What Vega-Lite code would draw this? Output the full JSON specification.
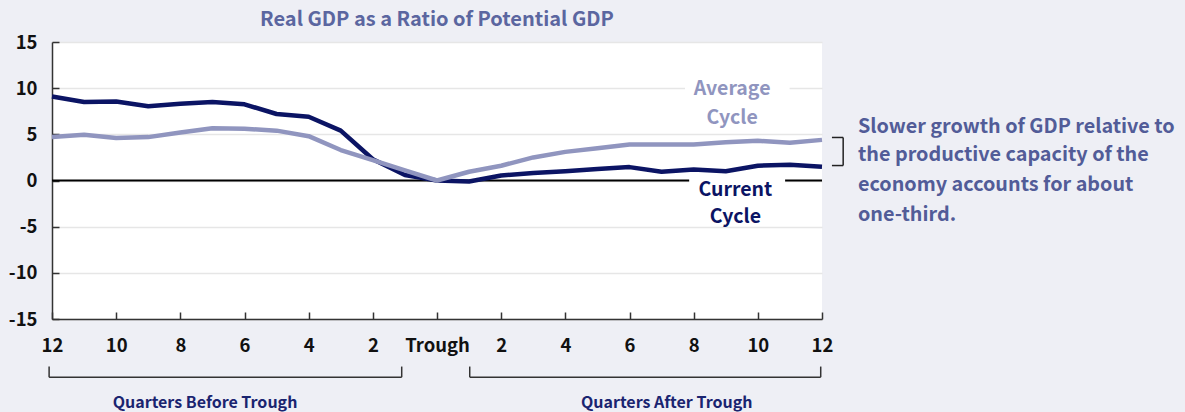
{
  "$schema": "https://vega.github.io/schema/vega-lite/v6.json",
  "autosize": "none",
  "width": 770,
  "height": 277,
  "padding": {"left": 52, "top": 42, "right": 363, "bottom": 93},
  "background": "#eeeff5",
  "config": {
    "view": {"fill": "white", "stroke": null},
    "font": "Noto Sans CJK KR",
    "axis": {
      "labelFont": "Noto Sans CJK KR",
      "labelFontSize": 18.5,
      "labelFontWeight": "bold",
      "labelColor": "#111111",
      "domainColor": "#333333",
      "domainWidth": 1.5,
      "tickColor": "#333333",
      "tickWidth": 1.5,
      "title": null
    }
  },
  "title": {
    "text": "Real GDP as a Ratio of Potential GDP",
    "font": "Noto Sans CJK KR",
    "fontSize": 20,
    "fontWeight": "bold",
    "color": "#5b66a0",
    "anchor": "middle",
    "offset": 3
  },
  "datasets": {
    "gdp": [
      {"q": -12, "series": "Current", "v": 9.1},
      {"q": -11, "series": "Current", "v": 8.5},
      {"q": -10, "series": "Current", "v": 8.55},
      {"q": -9, "series": "Current", "v": 8.05},
      {"q": -8, "series": "Current", "v": 8.3},
      {"q": -7, "series": "Current", "v": 8.5},
      {"q": -6, "series": "Current", "v": 8.25},
      {"q": -5, "series": "Current", "v": 7.2},
      {"q": -4, "series": "Current", "v": 6.9},
      {"q": -3, "series": "Current", "v": 5.4},
      {"q": -2, "series": "Current", "v": 2.3},
      {"q": -1, "series": "Current", "v": 0.6},
      {"q": 0, "series": "Current", "v": 0.0},
      {"q": 1, "series": "Current", "v": -0.1},
      {"q": 2, "series": "Current", "v": 0.55},
      {"q": 3, "series": "Current", "v": 0.8},
      {"q": 4, "series": "Current", "v": 1.0},
      {"q": 5, "series": "Current", "v": 1.25},
      {"q": 6, "series": "Current", "v": 1.45},
      {"q": 7, "series": "Current", "v": 0.95},
      {"q": 8, "series": "Current", "v": 1.2},
      {"q": 9, "series": "Current", "v": 1.0},
      {"q": 10, "series": "Current", "v": 1.6},
      {"q": 11, "series": "Current", "v": 1.7},
      {"q": 12, "series": "Current", "v": 1.5},
      {"q": -12, "series": "Average", "v": 4.7},
      {"q": -11, "series": "Average", "v": 4.95},
      {"q": -10, "series": "Average", "v": 4.6},
      {"q": -9, "series": "Average", "v": 4.7},
      {"q": -8, "series": "Average", "v": 5.2},
      {"q": -7, "series": "Average", "v": 5.65},
      {"q": -6, "series": "Average", "v": 5.6},
      {"q": -5, "series": "Average", "v": 5.4},
      {"q": -4, "series": "Average", "v": 4.8},
      {"q": -3, "series": "Average", "v": 3.3},
      {"q": -2, "series": "Average", "v": 2.2},
      {"q": -1, "series": "Average", "v": 1.1},
      {"q": 0, "series": "Average", "v": 0.0},
      {"q": 1, "series": "Average", "v": 0.95},
      {"q": 2, "series": "Average", "v": 1.6},
      {"q": 3, "series": "Average", "v": 2.5},
      {"q": 4, "series": "Average", "v": 3.1},
      {"q": 5, "series": "Average", "v": 3.5},
      {"q": 6, "series": "Average", "v": 3.9},
      {"q": 7, "series": "Average", "v": 3.9},
      {"q": 8, "series": "Average", "v": 3.9},
      {"q": 9, "series": "Average", "v": 4.15},
      {"q": 10, "series": "Average", "v": 4.3},
      {"q": 11, "series": "Average", "v": 4.1},
      {"q": 12, "series": "Average", "v": 4.4}
    ],
    "gaps": [
      {"x": 7.73, "x2": 10.99, "y": 9.55, "y2": 10.45},
      {"x": 7.86, "x2": 10.85, "y": -0.5, "y2": 0.5}
    ],
    "labels": [
      {"x": 9.2, "y": 9.86, "t": "Average", "series": "Average"},
      {"x": 9.2, "y": 6.8, "t": "Cycle", "series": "Average"},
      {"x": 9.3, "y": -1.0, "t": "Current", "series": "Current"},
      {"x": 9.3, "y": -4.0, "t": "Cycle", "series": "Current"}
    ],
    "brackets": [
      {"x": -12.09, "x2": -1.1, "y": -21.3, "y2": -21.3},
      {"x": -12.09, "x2": -12.09, "y": -20.15, "y2": -21.3},
      {"x": -1.1, "x2": -1.1, "y": -20.15, "y2": -21.3},
      {"x": 1.02, "x2": 11.96, "y": -21.3, "y2": -21.3},
      {"x": 1.02, "x2": 1.02, "y": -20.15, "y2": -21.3},
      {"x": 11.96, "x2": 11.96, "y": -20.15, "y2": -21.3}
    ],
    "sidebracket": [
      {"x": 12.31, "x2": 12.66, "y": 4.66, "y2": 4.66},
      {"x": 12.66, "x2": 12.66, "y": 4.66, "y2": 1.62},
      {"x": 12.31, "x2": 12.66, "y": 1.62, "y2": 1.62}
    ],
    "qlabels": [
      {"x": -7.23, "y": -24.05, "t": "Quarters Before Trough"},
      {"x": 7.16, "y": -24.05, "t": "Quarters After Trough"}
    ],
    "note": [
      {"x": 13.12, "y": 5.77, "t": "Slower growth of GDP relative to"},
      {"x": 13.12, "y": 2.71, "t": "the productive capacity of the"},
      {"x": 13.12, "y": -0.54, "t": "economy accounts for about"},
      {"x": 13.12, "y": -3.79, "t": "one-third."}
    ]
  },
  "layer": [
    {
      "data": {"name": "gdp"},
      "mark": {"type": "line", "opacity": 0},
      "encoding": {
        "x": {
          "field": "q", "type": "quantitative",
          "scale": {"domain": [-12, 12], "nice": false, "zero": false},
          "axis": {
            "values": [-12, -10, -8, -6, -4, -2, 0, 2, 4, 6, 8, 10, 12],
            "labelExpr": "datum.value == 0 ? 'Trough' : '' + abs(datum.value)",
            "tickSize": -7,
            "labelPadding": 24,
            "grid": false,
            "labelFlush": false
          }
        },
        "y": {
          "field": "v", "type": "quantitative",
          "scale": {"domain": [-15, 15], "nice": false},
          "axis": {
            "values": [-15, -10, -5, 0, 5, 10, 15],
            "labelExpr": "datum.value < 0 ? '-' + abs(datum.value) : '' + datum.value",
            "tickSize": -7,
            "labelPadding": 22,
            "grid": true,
            "gridColor": "#e6e6e6",
            "gridWidth": 1.5,
            "labelFlush": false
          }
        }
      }
    },
    {
      "data": {"values": [{"y": 0}]},
      "mark": {"type": "rule", "color": "#000000", "strokeWidth": 2},
      "encoding": {"y": {"field": "y", "type": "quantitative"}}
    },
    {
      "data": {"name": "gaps"},
      "mark": {"type": "rect", "color": "white"},
      "encoding": {
        "x": {"field": "x", "type": "quantitative"},
        "x2": {"field": "x2"},
        "y": {"field": "y", "type": "quantitative"},
        "y2": {"field": "y2"}
      }
    },
    {
      "data": {"name": "gdp"},
      "mark": {"type": "line", "strokeWidth": 4.5, "strokeJoin": "round", "strokeCap": "butt"},
      "encoding": {
        "x": {"field": "q", "type": "quantitative"},
        "y": {"field": "v", "type": "quantitative"},
        "color": {
          "field": "series", "type": "nominal",
          "scale": {"domain": ["Current", "Average"], "range": ["#0b1464", "#9095bf"]},
          "legend": null
        },
        "order": {"field": "q"}
      }
    },
    {
      "data": {"name": "labels"},
      "mark": {"type": "text", "fontSize": 19.5, "fontWeight": "bold", "align": "center", "baseline": "middle"},
      "encoding": {
        "x": {"field": "x", "type": "quantitative"},
        "y": {"field": "y", "type": "quantitative"},
        "text": {"field": "t"},
        "color": {"field": "series", "type": "nominal", "legend": null}
      }
    },
    {
      "data": {"name": "brackets"},
      "mark": {"type": "rule", "color": "#333333", "strokeWidth": 1.5},
      "encoding": {
        "x": {"field": "x", "type": "quantitative"},
        "x2": {"field": "x2"},
        "y": {"field": "y", "type": "quantitative"},
        "y2": {"field": "y2"}
      }
    },
    {
      "data": {"name": "sidebracket"},
      "mark": {"type": "rule", "color": "#222222", "strokeWidth": 1.5},
      "encoding": {
        "x": {"field": "x", "type": "quantitative"},
        "x2": {"field": "x2"},
        "y": {"field": "y", "type": "quantitative"},
        "y2": {"field": "y2"}
      }
    },
    {
      "data": {"name": "qlabels"},
      "mark": {"type": "text", "fontSize": 16, "fontWeight": "bold", "align": "center", "baseline": "middle", "color": "#1a2470"},
      "encoding": {
        "x": {"field": "x", "type": "quantitative"},
        "y": {"field": "y", "type": "quantitative"},
        "text": {"field": "t"}
      }
    },
    {
      "data": {"name": "note"},
      "mark": {"type": "text", "fontSize": 19.8, "fontWeight": "bold", "align": "left", "baseline": "middle", "color": "#525c98"},
      "encoding": {
        "x": {"field": "x", "type": "quantitative"},
        "y": {"field": "y", "type": "quantitative"},
        "text": {"field": "t"}
      }
    }
  ]
}
